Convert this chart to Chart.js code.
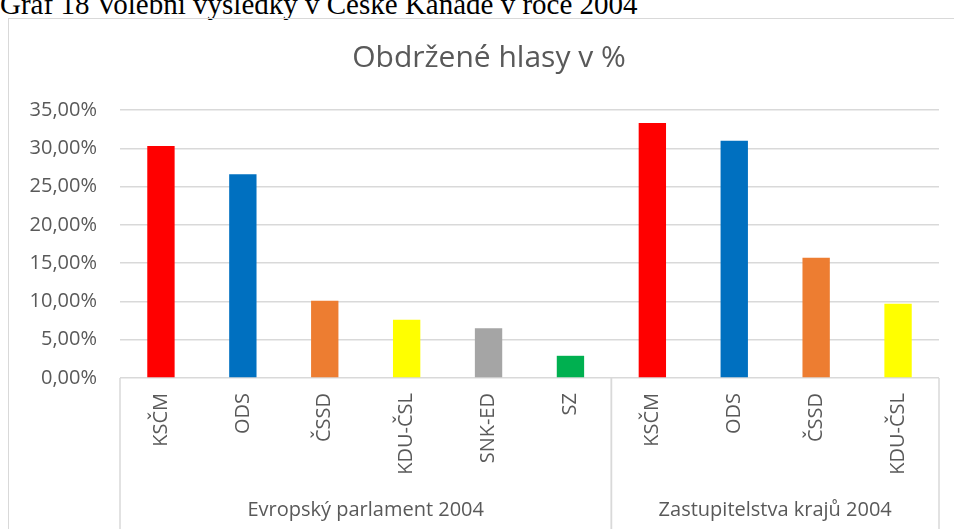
<html><head>
<meta charset="UTF-8">
<title>Obdržené hlasy v %</title>
<style>
  body {
    margin: 0;
    padding: 0;
    background: white;
    width: 954px;
    height: 529px;
    overflow: hidden;
    position: relative;
  }
  .caption {
    position: absolute;
    left: 0px;
    top: -10px;
    font-family: 'Liberation Serif', 'Times New Roman', serif;
    font-size: 29px;
    line-height: 29px;
    color: black;
    white-space: nowrap;
  }
  .frame {
    position: absolute;
    left: 8px;
    top: 18px;
    width: 1000px;
    height: 600px;
    border: 1.5px solid #d9d9d9;
  }
  #votesChart {
    position: absolute;
    left: 0;
    top: 0;
  }
</style>
<script src="https://cdn.jsdelivr.net/npm/chart.js"></script>
</head>
<body>
  <div class="caption">Graf 18 Volební výsledky v České Kanadě v roce 2004</div>
  <div class="frame"></div>
  <canvas id="votesChart" width="954" height="529"></canvas>

  <script>
    // data
    var chartTitle = 'Obdržené hlasy v %';
    var groupNames = ['Evropský parlament 2004', 'Zastupitelstva krajů 2004'];
    var groupSizes = [6, 4];
    var parties = ['KSČM', 'ODS', 'ČSSD', 'KDU-ČSL', 'SNK-ED', 'SZ', 'KSČM', 'ODS', 'ČSSD', 'KDU-ČSL'];
    var votes = [30.3, 26.6, 10.1, 7.6, 6.5, 2.9, 33.3, 31.0, 15.7, 9.7];
    var yTicks = [0, 5, 10, 15, 20, 25, 30, 35];

    var partyColors = {
      'KSČM': '#ff0000',
      'ODS': '#0070c0',
      'ČSSD': '#ed7d31',
      'KDU-ČSL': '#ffff00',
      'SNK-ED': '#a5a5a5',
      'SZ': '#00b050'
    };

    var textColor = '#595959';
    var lineColor = '#d9d9d9';
    var fontFamily = "'Open Sans', sans-serif";

    // title and the two-level category labels
    var extrasPlugin = {
      id: 'extras',
      afterDraw: function(chart) {
        var ctx = chart.ctx;
        var area = chart.chartArea;
        var x = chart.scales.x;
        var half = (x.getPixelForValue(1) - x.getPixelForValue(0)) / 2;

        ctx.save();
        ctx.fillStyle = textColor;
        ctx.textAlign = 'center';
        ctx.textBaseline = 'middle';
        ctx.font = '30px ' + fontFamily;
        ctx.fillText(chartTitle, 489, 58);

        ctx.strokeStyle = lineColor;
        ctx.lineWidth = 1.5;
        ctx.font = '20px ' + fontFamily;
        var start = 0;
        groupSizes.forEach(function(n, i) {
          var left = x.getPixelForValue(start) - half;
          var right = x.getPixelForValue(start + n - 1) + half;
          ctx.beginPath();
          ctx.moveTo(left, area.bottom);
          ctx.lineTo(left, chart.height);
          ctx.moveTo(right, area.bottom);
          ctx.lineTo(right, chart.height);
          ctx.stroke();
          ctx.fillText(groupNames[i], (left + right) / 2, area.bottom + 132);
          start += n;
        });
        ctx.restore();
      }
    };

    var ctx = document.getElementById('votesChart').getContext('2d');
    var votesChart = new Chart(ctx, {
      type: 'bar',
      data: {
        labels: parties,
        datasets: [{
          data: votes,
          backgroundColor: parties.map(function(p) { return partyColors[p]; }),
          barPercentage: 0.334,
          categoryPercentage: 1
        }]
      },
      options: {
        responsive: false,
        animation: false,
        layout: {
          padding: { top: 110, right: 15, left: 0, bottom: 0 }
        },
        plugins: {
          legend: { display: false },
          tooltip: { enabled: false },
          title: { display: false }
        },
        scales: {
          x: {
            grid: { display: false, drawTicks: false },
            border: { display: false },
            ticks: {
              autoSkip: false,
              minRotation: 90,
              maxRotation: 90,
              padding: 15,
              color: textColor,
              font: { family: fontFamily, size: 20 }
            },
            afterFit: function(scale) { scale.height = 151; }
          },
          y: {
            min: 0,
            max: 35,
            afterBuildTicks: function(scale) {
              scale.ticks = yTicks.map(function(v) { return { value: v }; });
            },
            grid: { color: lineColor, lineWidth: 1.5, drawTicks: false },
            border: { display: false },
            ticks: {
              padding: 23,
              color: textColor,
              font: { family: fontFamily, size: 20 },
              callback: function(v) { return v.toFixed(2).replace('.', ',') + '%'; }
            },
            afterFit: function(scale) { scale.width = 120; }
          }
        }
      },
      plugins: [extrasPlugin]
    });
  </script>
</body>
</html>
